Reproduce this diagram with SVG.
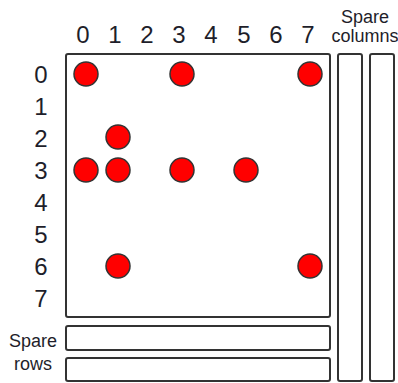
<svg xmlns="http://www.w3.org/2000/svg" width="398" height="383" viewBox="0 0 398 383">
<style>
.box{fill:#fff;stroke:#333;stroke-width:2}
.dot{fill:#f00;stroke:#333;stroke-width:1.5}
.num{font-family:"Liberation Sans",Arial,sans-serif;font-size:24px;fill:#1e1e2a;text-anchor:middle}
.lbl{font-family:"Liberation Sans",Arial,sans-serif;font-size:18px;fill:#1e1e2a;text-anchor:middle}
</style>
<rect width="398" height="383" fill="#fff"/>
<g id="matrix">
<rect class="box" x="66" y="54" width="264" height="263" rx="2"/>
</g>
<g id="spare-columns">
<rect class="box" x="338" y="54" width="24" height="327" rx="2"/>
<rect class="box" x="370" y="54" width="24" height="327" rx="2"/>
<text class="lbl" x="365" y="23">Spare</text>
<text class="lbl" x="365" y="42">columns</text>
</g>
<g id="spare-rows">
<rect class="box" x="66" y="326" width="264" height="24" rx="2"/>
<rect class="box" x="66" y="358" width="264" height="23" rx="2"/>
<text class="lbl" x="33" y="347">Spare</text>
<text class="lbl" x="33" y="370">rows</text>
</g>
<g id="col-labels">
<text class="num" x="83" y="43">0</text>
<text class="num" x="115" y="43">1</text>
<text class="num" x="147" y="43">2</text>
<text class="num" x="179" y="43">3</text>
<text class="num" x="211" y="43">4</text>
<text class="num" x="244" y="43">5</text>
<text class="num" x="276" y="43">6</text>
<text class="num" x="308" y="43">7</text>
</g>
<g id="row-labels">
<text class="num" x="41" y="83">0</text>
<text class="num" x="41" y="115">1</text>
<text class="num" x="41" y="147">2</text>
<text class="num" x="41" y="179">3</text>
<text class="num" x="41" y="211">4</text>
<text class="num" x="41" y="243">5</text>
<text class="num" x="41" y="275">6</text>
<text class="num" x="41" y="307">7</text>
</g>
<g id="faults">
<circle class="dot" cx="86" cy="74" r="12"/>
<circle class="dot" cx="182" cy="74" r="12"/>
<circle class="dot" cx="310" cy="74" r="12"/>
<circle class="dot" cx="118" cy="137" r="12"/>
<circle class="dot" cx="86" cy="170" r="12"/>
<circle class="dot" cx="118" cy="170" r="12"/>
<circle class="dot" cx="182" cy="170" r="12"/>
<circle class="dot" cx="246" cy="170" r="12"/>
<circle class="dot" cx="118" cy="266" r="12"/>
<circle class="dot" cx="310" cy="266" r="12"/>
</g>
</svg>
